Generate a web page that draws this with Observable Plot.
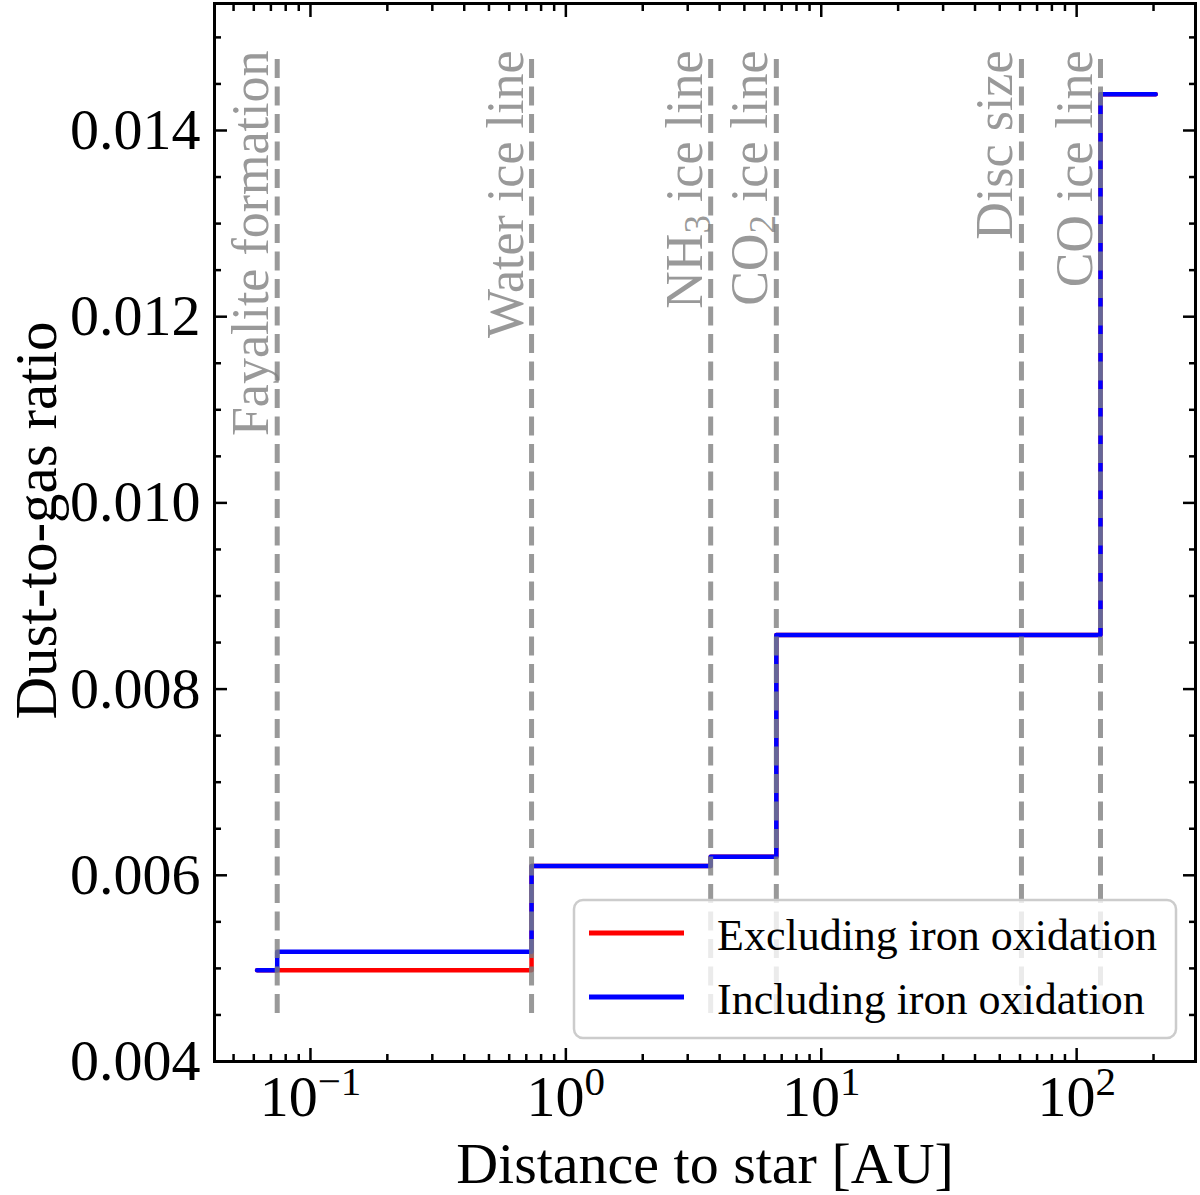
<!DOCTYPE html>
<html><head><meta charset="utf-8">
<script src="https://cdn.jsdelivr.net/npm/d3@7"></script>
<script src="https://cdn.jsdelivr.net/npm/@observablehq/plot@0.6"></script>
<style>
body{margin:0;background:#fff}
#chart{width:1200px;height:1195px}
</style>
</head><body><div id="chart"></div>
<script>
// ---- data ----
const radius     = [0.0618, 0.0741, 0.734, 3.69, 6.67, 124, 204];
const ratioExcl  = [0.00498, 0.00498, 0.00610, 0.00620, 0.00858, 0.01439, 0.01439];
const ratioIncl  = [0.00498, 0.00518, 0.00610, 0.00620, 0.00858, 0.01439, 0.01439];
const seriesNames  = ["Excluding iron oxidation", "Including iron oxidation"];
const seriesColors = ["#ff0000", "#0000ff"];

const lineNames     = ["Fayalite formation", "Water ice line", "NH₃ ice line", "CO₂ ice line", "Disc size", "CO ice line"];
const linePositions = [0.0741, 0.734, 3.69, 6.67, 60.8, 124];

const xTickValues = [0.1, 1, 10, 100];
const xTickExps   = ["−1", "0", "1", "2"];
const yTickValues = [0.004, 0.006, 0.008, 0.010, 0.012, 0.014];
const yTickLabels = ["0.004", "0.006", "0.008", "0.010", "0.012", "0.014"];

// ---- layout ----
const W = 1200, H = 1195;
const mL = 214, mR = 5, mT = 3, mB = 134;
const xDomain = [0.0421, 292];
const yDomain = [0.004, 0.015364];
const vlineYmin = 0.004516, vlineYmax = 0.014784;

const xMinor = [];
for (let k = -2; k <= 2; k++) for (let m = 2; m <= 9; m++) {
  const v = m * Math.pow(10, k);
  if (v > xDomain[0] && v < xDomain[1]) xMinor.push(v);
}
const yMinor = d3.range(0, 23).map(i => +(0.004 + i * 0.0005).toFixed(4))
  .filter(v => v < yDomain[1] && !yTickValues.some(t => Math.abs(t - v) < 1e-9));

const rowsExcl = radius.map((r, i) => ({r, v: ratioExcl[i]}));
const rowsIncl = radius.map((r, i) => ({r, v: ratioIncl[i]}));
const vlines = linePositions.map((x, i) => ({x, name: lineNames[i], y1: vlineYmin, y2: vlineYmax}));

const tickStyle = {stroke: "black", strokeWidth: 2.5, fill: "none", label: null};
const FONT = "'Liberation Serif', 'Times New Roman', serif";

const plot = Plot.plot({
  width: W, height: H,
  marginLeft: mL, marginRight: mR, marginTop: mT, marginBottom: mB,
  style: {fontFamily: FONT, fontSize: "58px", background: "white", color: "black"},
  x: {type: "log", domain: xDomain, axis: null},
  y: {type: "linear", domain: yDomain, axis: null},
  marks: [
    Plot.lineY(rowsExcl, {x: "r", y: "v", curve: "step-after", stroke: seriesColors[0], strokeWidth: 4.5}),
    Plot.lineY(rowsIncl, {x: "r", y: "v", curve: "step-after", stroke: seriesColors[1], strokeWidth: 4.5}),
    Plot.ruleX(vlines, {x: "x", y1: "y1", y2: "y2", stroke: "gray", strokeOpacity: 0.8, strokeWidth: 5, strokeDasharray: "19,8.5"}),
    Plot.text(vlines, {x: "x", text: "name", frameAnchor: "top", dy: 47, dx: -9, rotate: -90,
      textAnchor: "end", lineAnchor: "bottom", fill: "gray", fillOpacity: 0.8, fontSize: 52}),
    // ticks (inward, all sides)
    Plot.axisX(xTickValues, {anchor: "bottom", tickSize: -13, ...tickStyle}),
    Plot.axisX(xMinor, {anchor: "bottom", tickSize: -7, ...tickStyle}),
    Plot.axisX(xTickValues, {anchor: "top", tickSize: -13, ...tickStyle}),
    Plot.axisX(xMinor, {anchor: "top", tickSize: -7, ...tickStyle}),
    Plot.axisY(yTickValues, {anchor: "left", tickSize: -13, ...tickStyle}),
    Plot.axisY(yMinor, {anchor: "left", tickSize: -7, ...tickStyle}),
    Plot.axisY(yTickValues, {anchor: "right", tickSize: -13, ...tickStyle}),
    Plot.axisY(yMinor, {anchor: "right", tickSize: -7, ...tickStyle}),
    // tick labels
    Plot.axisX(xTickValues, {anchor: "bottom", tickSize: 0, tickPadding: 13, fontSize: 58, label: null,
      tickFormat: d => "10^" + xTickExps[xTickValues.indexOf(d)]}),
    Plot.axisY(yTickValues, {anchor: "left", tickSize: 0, tickPadding: 14, fontSize: 58, label: null,
      tickFormat: d => yTickLabels[yTickValues.indexOf(d)]}),
    Plot.frame({stroke: "black", strokeWidth: 3}),
    Plot.text(["Distance to star [AU]"], {frameAnchor: "bottom", dy: 121, lineAnchor: "bottom", fontSize: 58}),
    Plot.text(["Dust-to-gas ratio"], {frameAnchor: "left", dx: -159, dy: -12, rotate: -90, lineAnchor: "bottom", textAnchor: "middle", fontSize: 59})
  ]
});

document.getElementById("chart").appendChild(plot);
const svg = d3.select(plot);

// superscript exponents on x tick labels
svg.selectAll('g[aria-label="x-axis tick label"] text').each(function() {
  const t = this.textContent;
  if (!t.includes("^")) return;
  const [b, e] = t.split("^");
  while (this.firstChild) this.removeChild(this.firstChild);
  this.appendChild(document.createTextNode(b));
  const ts = document.createElementNS("http://www.w3.org/2000/svg", "tspan");
  ts.setAttribute("dy", "-21");
  ts.setAttribute("font-size", "41");
  ts.textContent = e;
  this.appendChild(ts);
});

// subscripts in vertical labels
const subMap = {"₂": "2", "₃": "3"};
svg.selectAll("text").each(function() {
  const t = this.textContent;
  const m = t.match(/[₂₃]/);
  if (!m) return;
  const idx = t.indexOf(m[0]);
  while (this.firstChild) this.removeChild(this.firstChild);
  this.appendChild(document.createTextNode(t.slice(0, idx)));
  const ts = document.createElementNS("http://www.w3.org/2000/svg", "tspan");
  ts.setAttribute("dy", "8");
  ts.setAttribute("font-size", "37");
  ts.textContent = subMap[m[0]];
  this.appendChild(ts);
  const rest = document.createElementNS("http://www.w3.org/2000/svg", "tspan");
  rest.setAttribute("dy", "-8");
  rest.textContent = t.slice(idx + 1);
  this.appendChild(rest);
});

// legend
const lg = svg.append("g").attr("font-family", FONT).attr("font-size", 44).attr("text-anchor", "start");
lg.append("rect").attr("x", 574).attr("y", 900).attr("width", 602).attr("height", 138).attr("rx", 9)
  .attr("fill", "white").attr("fill-opacity", 0.8).attr("stroke", "#cccccc").attr("stroke-width", 2.5);
seriesNames.forEach((name, i) => {
  const yc = 933 + i * 64;
  lg.append("line").attr("x1", 589).attr("x2", 684).attr("y1", yc).attr("y2", yc)
    .attr("stroke", seriesColors[i]).attr("stroke-width", 5);
  lg.append("text").attr("x", 717).attr("y", yc + 17).attr("fill", "black").attr("text-anchor", "start").text(name);
});
</script>
</body></html>
